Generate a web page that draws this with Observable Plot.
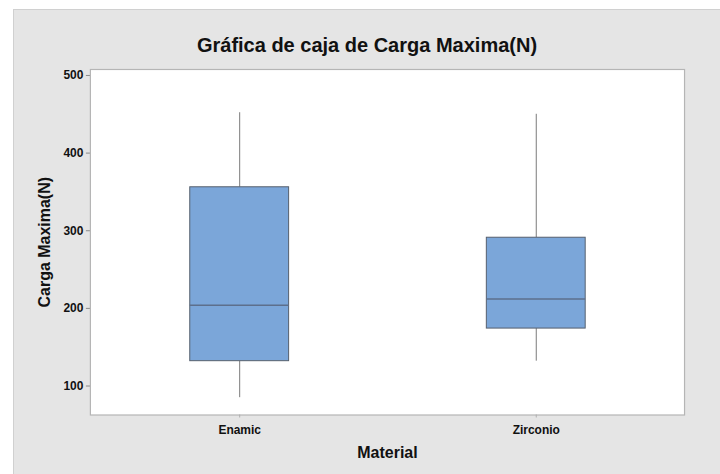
<!DOCTYPE html>
<html>
<head>
<meta charset="utf-8">
<script src="https://cdn.jsdelivr.net/npm/d3@7"></script>
<script src="https://cdn.jsdelivr.net/npm/@observablehq/plot@0.6"></script>
<style>
  html, body { margin: 0; padding: 0; background: #ffffff; }
  #panel {
    position: absolute; left: 13px; top: 9px; width: 707px; height: 465px;
    background: #e5e5e5; border-top: 1px solid #d0d0d0; border-left: 1px solid #d0d0d0;
    box-sizing: border-box;
    font-family: "Liberation Sans", Arial, sans-serif;
  }
  #title {
    height: 50px; line-height: 71px; text-align: center;
    font-size: 20px; font-weight: bold; color: #111;
  }
  #chart svg { display: block; }
</style>
</head>
<body>
<div id="panel">
  <div id="title">Gráfica de caja de Carga Maxima(N)</div>
  <div id="chart"></div>
</div>
<script>
// Box summaries (Carga Maxima, N)
const materials = ["Enamic", "Zirconio"];
const minVals    = [85, 132];
const q1Vals     = [132, 174];
const medianVals = [204, 212];
const q3Vals     = [356, 291];
const maxVals    = [452, 450];
const yTicks = [100, 200, 300, 400, 500];

const rows = materials.map((m, i) => ({
  material: m, min: minVals[i], q1: q1Vals[i], median: medianVals[i], q3: q3Vals[i], max: maxVals[i]
}));

const boxFill = "#7ba6d9";
const boxStroke = "#56606e";
const inset = 99;

const chart = Plot.plot({
  width: 707,
  height: 415,
  marginTop: 9,
  marginBottom: 60,
  marginLeft: 76,
  marginRight: 36,
  style: { background: "transparent", fontFamily: "'Liberation Sans', Arial, sans-serif", color: "#111" },
  x: { type: "band", domain: materials, padding: 0 },
  y: { domain: [62.7, 507.7] },
  marks: [
    Plot.frame({ fill: "white", stroke: "none" }),
    Plot.ruleX(rows, { x: "material", y1: "q3", y2: "max", stroke: "#7a7a7a", strokeWidth: 1 }),
    Plot.ruleX(rows, { x: "material", y1: "min", y2: "q1", stroke: "#7a7a7a", strokeWidth: 1 }),
    Plot.barY(rows, { x: "material", y1: "q1", y2: "q3", fill: boxFill, stroke: boxStroke, strokeWidth: 1, insetLeft: inset, insetRight: inset }),
    Plot.tickY(rows, { x: "material", y: "median", stroke: "#5d6f8c", strokeWidth: 1.5, insetLeft: inset, insetRight: inset }),
    Plot.frame({ stroke: "#b5b5b5", strokeWidth: 1.2 }),
    Plot.axisY(yTicks, {
      tickSize: 4, stroke: "#8a8a8a", tickPadding: 3,
      fontSize: 12, fontWeight: "bold", fill: "#111",
      label: "Carga Maxima(N)", labelAnchor: "center", labelArrow: "none", labelOffset: 52
    }),
    Plot.axisX(materials, {
      tickSize: 3, stroke: "#b0b0b0", tickPadding: 8,
      fontSize: 12, fontWeight: "bold", fill: "#111",
      label: "Material", labelAnchor: "center", labelArrow: "none", labelOffset: 43
    })
  ]
});
document.getElementById("chart").appendChild(chart);
// style axis labels larger
chart.querySelectorAll("g[aria-label='y-axis label'] text, g[aria-label='x-axis label'] text").forEach(t => {
  t.setAttribute("font-size", "16");
  t.setAttribute("font-weight", "bold");
});
</script>
</body>
</html>
